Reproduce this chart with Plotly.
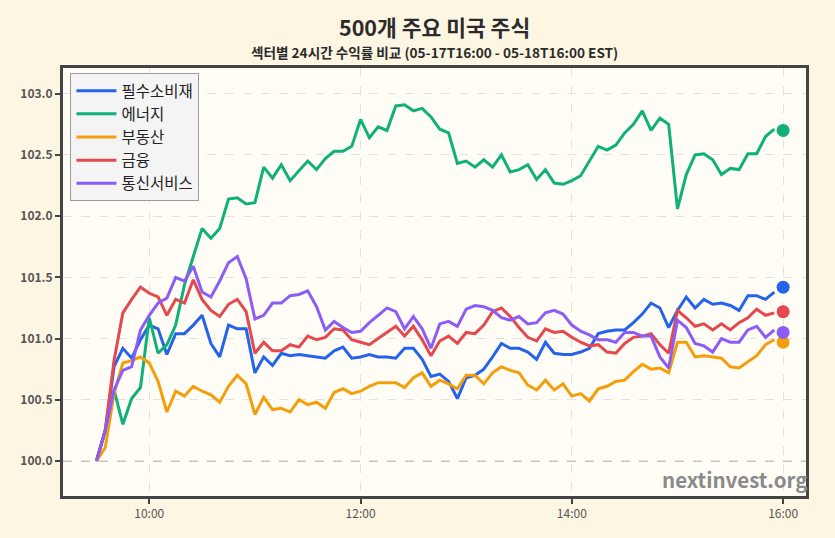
import pandas as pd
import plotly.graph_objects as go

times = pd.date_range("2024-05-18 09:30", "2024-05-18 15:55", freq="5min")
close_time = "2024-05-18 16:00"

names = ["필수소비재", "에너지", "부동산", "금융", "통신서비스"]
colors = ["#2563eb", "#10b07a", "#f59e0b", "#e5484d", "#8b5cf6"]

staples = [100.00, 100.25, 100.77, 100.92, 100.84, 100.99, 101.11, 101.08, 100.87, 101.04,
           101.04, 101.11, 101.19, 100.96, 100.85, 101.11, 101.08, 101.08, 100.72, 100.85,
           100.78, 100.88, 100.86, 100.87, 100.86, 100.85, 100.84, 100.90, 100.93, 100.84,
           100.85, 100.87, 100.85, 100.85, 100.84, 100.92, 100.92, 100.83, 100.69, 100.71,
           100.65, 100.51, 100.68, 100.70, 100.75, 100.85, 100.96, 100.92, 100.92, 100.89,
           100.83, 100.97, 100.88, 100.87, 100.87, 100.89, 100.92, 101.04, 101.06, 101.07,
           101.07, 101.13, 101.20, 101.29, 101.25, 101.09, 101.23, 101.34, 101.25, 101.32,
           101.28, 101.29, 101.27, 101.23, 101.35, 101.35, 101.32, 101.38]
energy = [100.00, 100.25, 100.58, 100.30, 100.51, 100.60, 101.17, 100.88, 100.95, 101.11,
          101.44, 101.67, 101.90, 101.82, 101.90, 102.14, 102.15, 102.10, 102.11, 102.40,
          102.31, 102.42, 102.29, 102.37, 102.45, 102.38, 102.47, 102.53, 102.53, 102.57,
          102.79, 102.64, 102.73, 102.70, 102.90, 102.91, 102.86, 102.88, 102.81, 102.71,
          102.68, 102.43, 102.45, 102.40, 102.46, 102.40, 102.50, 102.36, 102.38, 102.42,
          102.30, 102.38, 102.27, 102.26, 102.29, 102.33, 102.45, 102.57, 102.54, 102.58,
          102.68, 102.75, 102.86, 102.70, 102.80, 102.75, 102.06, 102.34, 102.50, 102.51,
          102.46, 102.34, 102.39, 102.38, 102.51, 102.51, 102.65, 102.71]
real_estate = [100.00, 100.11, 100.55, 100.80, 100.82, 100.85, 100.80, 100.65, 100.40, 100.57,
               100.53, 100.61, 100.57, 100.54, 100.48, 100.61, 100.70, 100.63, 100.38, 100.52,
               100.42, 100.43, 100.40, 100.50, 100.46, 100.48, 100.43, 100.56, 100.59, 100.55,
               100.57, 100.61, 100.64, 100.64, 100.64, 100.60, 100.68, 100.72, 100.61, 100.66,
               100.63, 100.59, 100.70, 100.70, 100.63, 100.72, 100.77, 100.74, 100.72, 100.62,
               100.58, 100.66, 100.58, 100.63, 100.53, 100.55, 100.49, 100.59, 100.61, 100.65,
               100.66, 100.73, 100.79, 100.75, 100.76, 100.72, 100.97, 100.97, 100.85, 100.86,
               100.85, 100.84, 100.77, 100.76, 100.81, 100.86, 100.95, 100.99]
financials = [100.00, 100.25, 100.82, 101.21, 101.32, 101.42, 101.37, 101.34, 101.19, 101.32,
              101.29, 101.48, 101.32, 101.23, 101.18, 101.28, 101.32, 101.22, 100.88, 100.97,
              100.90, 100.90, 100.95, 100.93, 101.02, 100.99, 101.01, 101.08, 101.07, 100.99,
              100.97, 100.95, 101.00, 101.05, 101.10, 101.02, 101.10, 100.99, 100.86, 100.98,
              101.02, 100.96, 101.05, 101.04, 101.11, 101.22, 101.25, 101.18, 101.09, 101.01,
              100.98, 101.08, 101.05, 101.06, 101.01, 100.97, 100.94, 100.95, 100.89, 100.88,
              100.96, 101.01, 101.02, 101.04, 100.95, 100.88, 101.23, 101.17, 101.10, 101.12,
              101.07, 101.12, 101.07, 101.13, 101.17, 101.24, 101.19, 101.21]
comm = [100.00, 100.25, 100.58, 100.74, 100.77, 101.07, 101.19, 101.29, 101.33, 101.50,
        101.47, 101.59, 101.38, 101.34, 101.47, 101.62, 101.67, 101.49, 101.16, 101.19,
        101.29, 101.29, 101.35, 101.36, 101.39, 101.26, 101.07, 101.14, 101.09, 101.05,
        101.06, 101.13, 101.19, 101.25, 101.22, 101.08, 101.18, 101.08, 100.92, 101.12,
        101.14, 101.10, 101.24, 101.27, 101.26, 101.23, 101.17, 101.15, 101.18, 101.12,
        101.13, 101.21, 101.23, 101.20, 101.11, 101.06, 101.03, 100.99, 100.99, 100.97,
        101.05, 101.05, 101.02, 101.02, 100.85, 100.76, 101.15, 101.09, 100.96, 100.94,
        100.89, 101.00, 100.97, 100.97, 101.07, 101.10, 101.01, 101.07]
close_values = [101.42, 102.70, 100.97, 101.22, 101.05]

title_text = "500개 주요 미국 주식"
subtitle_text = "섹터별 24시간 수익률 비교 (05-17T16:00 - 05-18T16:00 EST)"
y_ticks = [100.0, 100.5, 101.0, 101.5, 102.0, 102.5, 103.0]

series = [staples, energy, real_estate, financials, comm]
font = "Noto Sans CJK KR, Noto Sans, sans-serif"

fig = go.Figure()
for name, col, vals in zip(names, colors, series):
    fig.add_trace(go.Scatter(x=times, y=vals, mode="lines", name=name,
                             line=dict(color=col, width=3)))
for name, col, v in zip(names, colors, close_values):
    fig.add_trace(go.Scatter(x=[close_time], y=[v], mode="markers", showlegend=False,
                             marker=dict(color=col, size=13)))

fig.add_shape(type="line", xref="paper", x0=0, x1=1, y0=100, y1=100,
              line=dict(color="#b0b0b0", width=1.3, dash="dash"), layer="below")

fig.update_layout(
    width=835, height=538,
    margin=dict(l=63, r=29, t=68, b=42),
    paper_bgcolor="#fdf6e3",
    plot_bgcolor="#fffdf6",
    font=dict(family=font, color="#555"),
    legend=dict(x=0.01, y=0.988, xanchor="left", yanchor="top",
                bgcolor="rgba(243,243,243,0.95)", bordercolor="#9a9a9a", borderwidth=1,
                itemwidth=40,
                font=dict(size=15.5, color="#222", family=font)),
    showlegend=True,
)
fig.add_annotation(text="<b>" + title_text + "</b>", xref="paper", yref="paper",
                   x=0.5, y=1.0958, xanchor="center", yanchor="middle", showarrow=False,
                   font=dict(size=21.5, color="#2b2b2b", family=font))
fig.add_annotation(text="<b>" + subtitle_text + "</b>", xref="paper", yref="paper",
                   x=0.5, y=1.0374, xanchor="center", yanchor="middle", showarrow=False,
                   font=dict(size=13.6, color="#2b2b2b", family=font))

fig.update_xaxes(
    range=["2024-05-18 09:11", "2024-05-18 16:13"],
    tickvals=["2024-05-18 10:00", "2024-05-18 12:00", "2024-05-18 14:00", "2024-05-18 16:00"],
    tickformat="%H:%M",
    showgrid=True, gridcolor="#e2e2e2", griddash="dash", gridwidth=1,
    showline=True, linecolor="#444", linewidth=3, mirror=True,
    ticks="outside", ticklen=5, tickcolor="#444", tickwidth=2,
    tickfont=dict(size=12, color="#555", family=font), zeroline=False,
)
fig.update_yaxes(
    range=[99.714, 103.21],
    tickvals=y_ticks,
    ticktext=["<b>%.1f</b>" % t for t in y_ticks],
    showgrid=True, gridcolor="#e2e2e2", griddash="dash", gridwidth=1,
    showline=True, linecolor="#444", linewidth=3, mirror=True,
    ticks="outside", ticklen=5, tickcolor="#444", tickwidth=2,
    tickfont=dict(size=12, color="#555", family=font), zeroline=False,
)
fig.add_annotation(text="<b>nextinvest.org</b>", xref="paper", yref="paper",
                   x=1.006, y=0.0, xanchor="right", yanchor="bottom",
                   showarrow=False, font=dict(size=20.5, color="#8a8a8a", family=font))

fig.write_html("out.html")
